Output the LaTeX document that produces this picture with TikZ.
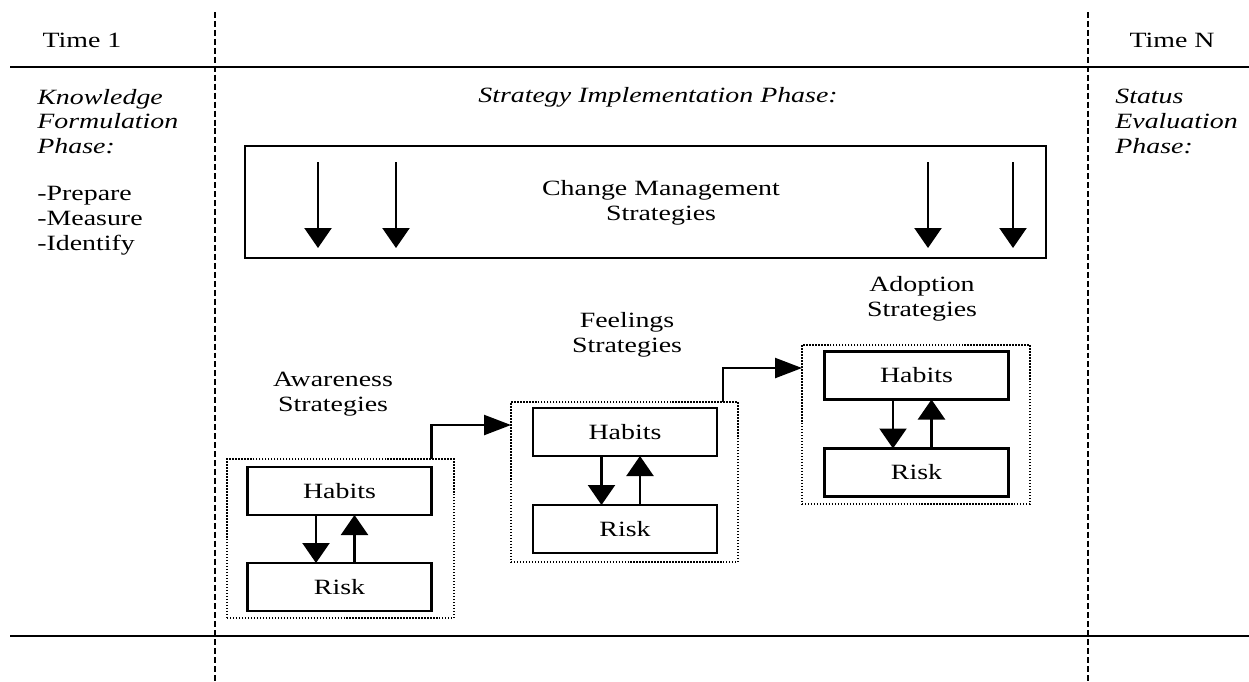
\documentclass[tikz,border=0pt]{standalone}
\usepackage{fontspec}
\setmainfont{Liberation Serif}[FakeStretch=1.28]
\usepackage{tikz}
\usetikzlibrary{positioning,arrows.meta}

\begin{document}
\begin{tikzpicture}[
    x=0.02cm, y=-0.02cm,
    every node/.style={font=\fontsize{12.4pt}{14pt}\selectfont},
    factornode/.style={rectangle, draw=black, line width=1.3pt, minimum width=3.68cm, minimum height=0.96cm, inner sep=0pt, outer sep=0pt},
    groupbox/.style={rectangle, draw=black, line width=0.9pt, dash pattern=on 0.8pt off 0.9pt, inner sep=0pt, outer sep=0pt},
    phaseline/.style={draw=black, line width=1.1pt},
    timeline/.style={draw=black, line width=1.1pt, dash pattern=on 3.4pt off 1.7pt},
    labelnode/.style={align=center, inner sep=0pt, anchor=base},
    vtip/.style={-{Triangle[length=0.4cm, width=0.54cm]}, line width=1.3pt},
    htip/.style={-{Triangle[length=0.54cm, width=0.4cm]}, line width=1.3pt}
    ]
        \useasboundingbox (0,0) rectangle (1249,681);

        %Frame
        \coordinate (tl) at (10,67);
        \coordinate (tr) at (1249,67);
        \coordinate (bl) at (10,636);
        \coordinate (br) at (1249,636);
        \coordinate (d1t) at (215,12);
        \coordinate (d1b) at (215,681);
        \coordinate (dNt) at (1088,12);
        \coordinate (dNb) at (1088,681);
        \draw[phaseline] (tl) -- (tr);
        \draw[phaseline] (bl) -- (br);
        \draw[timeline] (d1t) -- (d1b);
        \draw[timeline] (dNt) -- (dNb);

        %Headings (multi-line nodes sit on their last baseline)
        \node[labelnode] (time1) at (82,47) {Time 1};
        \node[labelnode] (timeN) at (1172,47) {Time N};
        \node[labelnode, align=left, anchor=base west]
            (know) at (37,250) {\textit{Knowledge}\\ \textit{Formulation}\\ \textit{Phase:}\\[13pt] -Prepare\\ -Measure\\ -Identify};
        \node[labelnode] (impl) at (658,102) {\textit{Strategy Implementation Phase:}};
        \node[labelnode, align=left, anchor=base west]
            (status) at (1115,153) {\textit{Status}\\ \textit{Evaluation}\\ \textit{Phase:}};

        %Change management
        \node[rectangle, draw=black, line width=1.3pt, minimum width=16.02cm, minimum height=2.24cm, inner sep=0pt]
            (change) at (645.5,202) {};
        \node[labelnode] (changetxt) at (661,220) {Change Management\\ Strategies};
        \foreach \x [count=\i] in {318,396,928,1013} {
            \coordinate (cs\i) at (\x,162);
            \coordinate (ce\i) at (\x,248);
            \draw[vtip] (cs\i) -- (ce\i);
        }

        %Groups
        \node[groupbox, minimum width=4.54cm, minimum height=3.18cm]
            (awbox) at (340.5,538.5) {};
        \node[groupbox, minimum width=4.54cm, minimum height=3.2cm]
            (febox) at (624.5,482) {};
        \node[groupbox, minimum width=4.56cm, minimum height=3.18cm]
            (adbox) at (916,424.5) {};

        %Nodes
        \node[factornode]
            (awhab) at (339.5,491) {Habits};
        \node[factornode]
            (awrisk) [below=0.96cm of awhab] {Risk};
        \node[factornode]
            (fehab) at (625,432) {Habits};
        \node[factornode]
            (ferisk) [below=0.98cm of fehab] {Risk};
        \node[factornode]
            (adhab) at (916.5,375.5) {Habits};
        \node[factornode]
            (adrisk) [below=0.98cm of adhab] {Risk};

        \node[labelnode] (awtxt) at (333,411) {Awareness\\ Strategies};
        \node[labelnode] (fetxt) at (627,352) {Feelings\\ Strategies};
        \node[labelnode] (adtxt) at (922,316) {Adoption\\ Strategies};

        %Lines
        \foreach \g in {aw,fe,ad} {
            \draw[vtip] ([xshift=-0.47cm]\g hab.south) -- ([xshift=-0.47cm]\g risk.north);
            \draw[vtip] ([xshift=0.3cm]\g risk.north) -- ([xshift=0.3cm]\g hab.south);
        }
        \draw[htip]
            (awbox.north -| awhab.east) |- ([yshift=-0.46cm]febox.north west);
        \draw[htip]
            ([xshift=-0.3cm]febox.north east) |- ([yshift=-0.46cm]adbox.north west);
    \end{tikzpicture}
\end{document}
